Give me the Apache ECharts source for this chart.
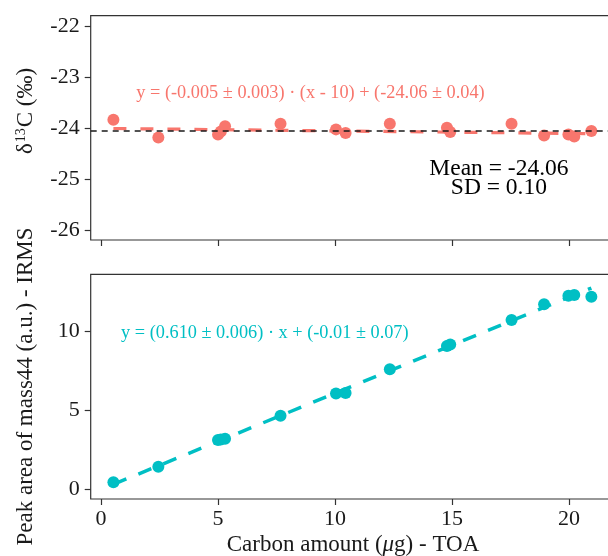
<!DOCTYPE html>
<html>
<head>
<meta charset="utf-8">
<script src="https://cdn.jsdelivr.net/npm/echarts@6/dist/echarts.min.js"></script>
<style>
  html, body { margin: 0; padding: 0; background: #ffffff; }
  #chart { width: 608px; height: 556px; }
</style>
</head>
<body>
<div id="chart"></div>
<script>
// Carbon amount of each TOA standard (µg) and its two measurements
const carbonUg = [0.53, 2.45, 5.00, 5.12, 5.30, 7.67, 10.04, 10.45, 12.34, 14.78, 14.92, 17.54, 18.93, 19.97, 20.22, 20.95];
const delta13C = [-23.84, -24.19, -24.13, -24.07, -23.97, -23.92, -24.03, -24.10, -23.92, -24.00, -24.08, -23.92, -24.15, -24.13, -24.17, -24.06];
const peakArea = [0.44, 1.43, 3.12, 3.15, 3.20, 4.67, 6.07, 6.11, 7.61, 9.09, 9.18, 10.74, 11.74, 12.28, 12.33, 12.22];

// Tick labels
const xTicks = [0, 5, 10, 15, 20];
const deltaTicks = [-26, -25, -24, -23, -22];
const areaTicks = [0, 5, 10];

// Fit results and summary statistics
const deltaSlope = -0.005, deltaIntercept = -24.06, deltaCentre = 10;
const areaSlope = 0.610, areaIntercept = -0.01;
const deltaMean = -24.06, deltaSD = 0.10;
const deltaFitLabel = 'y = (-0.005 \u00b1 0.003) \u00b7 (x - 10) + (-24.06 \u00b1 0.04)';
const areaFitLabel = 'y = (0.610 \u00b1 0.006) \u00b7 x + (-0.01 \u00b1 0.07)';

const SERIF = "'Liberation Serif', 'Times New Roman', serif";
const RED = '#F8766D';
const CYAN = '#00BFC4';
const INK = '#333333';
const TEXT = '#1a1a1a';

const xMin = -0.44, xMax = 21.96;
const xLo = Math.min(...carbonUg), xHi = Math.max(...carbonUg);

const deltaFitLine = [xLo, xHi].map(x => [x, deltaSlope * (x - deltaCentre) + deltaIntercept]);
const areaFitLine = [xLo, xHi].map(x => [x, areaSlope * x + areaIntercept]);

function xAxisFor(gridIndex, withLabels) {
  return {
    type: 'value', gridIndex, min: xMin, max: xMax, position: 'bottom',
    axisLine: { show: false, onZero: false },
    splitLine: { show: false },
    axisTick: { show: true, inside: false, customValues: xTicks, length: 6, lineStyle: { color: INK, width: 1.2 } },
    axisLabel: { show: withLabels, customValues: xTicks, margin: 9, color: TEXT, fontFamily: SERIF, fontSize: 22 }
  };
}
function yAxisFor(gridIndex, min, max, ticks) {
  return {
    type: 'value', gridIndex, min, max, position: 'left',
    axisLine: { show: false, onZero: false },
    splitLine: { show: false },
    axisTick: { show: true, inside: false, customValues: ticks, length: 6, lineStyle: { color: INK, width: 1.2 } },
    axisLabel: { customValues: ticks, margin: 11, color: TEXT, fontFamily: SERIF, fontSize: 22 }
  };
}

const chart = echarts.init(document.getElementById('chart'), null, { renderer: 'canvas' });

// The panels run past the right edge of the page, so the grids are not kept inside it
const panel = { left: 90.7, width: 524.3, show: true, borderColor: INK, borderWidth: 1.2, containLabel: false, outerBoundsMode: 'none' };

chart.setOption({
  animation: false,
  backgroundColor: '#ffffff',
  grid: [
    Object.assign({ top: 15.7, height: 224.3 }, panel),
    Object.assign({ top: 274.3, height: 224.7 }, panel)
  ],
  xAxis: [xAxisFor(0, false), xAxisFor(1, true)],
  yAxis: [
    yAxisFor(0, -26.2, -21.8, deltaTicks),
    yAxisFor(1, -0.62, 13.64, areaTicks)
  ],
  series: [
    {
      type: 'line', xAxisIndex: 0, yAxisIndex: 0, data: deltaFitLine, symbol: 'none', z: 2,
      lineStyle: { color: RED, width: 3.2, type: [13, 14] }, silent: true
    },
    {
      type: 'scatter', xAxisIndex: 0, yAxisIndex: 0, z: 3,
      data: carbonUg.map((x, i) => [x, delta13C[i]]),
      symbolSize: 12, itemStyle: { color: RED, opacity: 1 }
    },
    {
      type: 'line', xAxisIndex: 0, yAxisIndex: 0, symbol: 'none', z: 4,
      data: [[xMin, deltaMean], [xMax, deltaMean]],
      lineStyle: { color: TEXT, width: 1.5, type: [6, 5] }, silent: true
    },
    {
      type: 'line', xAxisIndex: 1, yAxisIndex: 1, data: areaFitLine, symbol: 'none', z: 2,
      lineStyle: { color: CYAN, width: 3.5, type: [14, 13] }, silent: true
    },
    {
      type: 'scatter', xAxisIndex: 1, yAxisIndex: 1, z: 3,
      data: carbonUg.map((x, i) => [x, peakArea[i]]),
      symbolSize: 12, itemStyle: { color: CYAN, opacity: 1 }
    }
  ]
});

// Annotations anchored in data coordinates
const pDeltaFit = chart.convertToPixel({ gridIndex: 0 }, [8.95, -23.33]);
const pStats = chart.convertToPixel({ gridIndex: 0 }, [17.0, -24.99]);
const pAreaFit = chart.convertToPixel({ gridIndex: 1 }, [7.0, 9.9]);

function label(x, y, text, fill, fontSize, extra) {
  return Object.assign({
    type: 'text', x, y, silent: true,
    style: Object.assign({
      text, fill, fontFamily: SERIF, fontSize,
      align: 'center', verticalAlign: 'middle',
      textAlign: 'center', textVerticalAlign: 'middle'
    }, (extra && extra.style) || {})
  }, (extra && extra.el) || {});
}

chart.setOption({
  graphic: [
    label(pDeltaFit[0], pDeltaFit[1], deltaFitLabel, RED, 18.3),
    label(pAreaFit[0], pAreaFit[1], areaFitLabel, CYAN, 18.3),
    label(pStats[0], pStats[1], 'Mean = ' + deltaMean.toFixed(2) + '\nSD = ' + deltaSD.toFixed(2), '#000000', 23.5,
      { style: { lineHeight: 19 } }),
    label(26, 111, '\u03b4{sup|13}C (\u2030)', TEXT, 23, {
      el: { rotation: Math.PI / 2 },
      style: { rich: { sup: { fontSize: 14, fontFamily: SERIF, fill: TEXT, verticalAlign: 'top', padding: [0, 1, 8, 1] } } }
    }),
    label(26, 386.5, 'Peak area of mass44 (a.u.) - IRMS', TEXT, 23, { el: { rotation: Math.PI / 2 } }),
    label(353, 545, 'Carbon amount ({i|\u03bc}g) - TOA', TEXT, 23, {
      style: { rich: { i: { fontStyle: 'italic', fontSize: 23, fontFamily: SERIF, fill: TEXT } } }
    })
  ]
});
</script>
</body>
</html>
